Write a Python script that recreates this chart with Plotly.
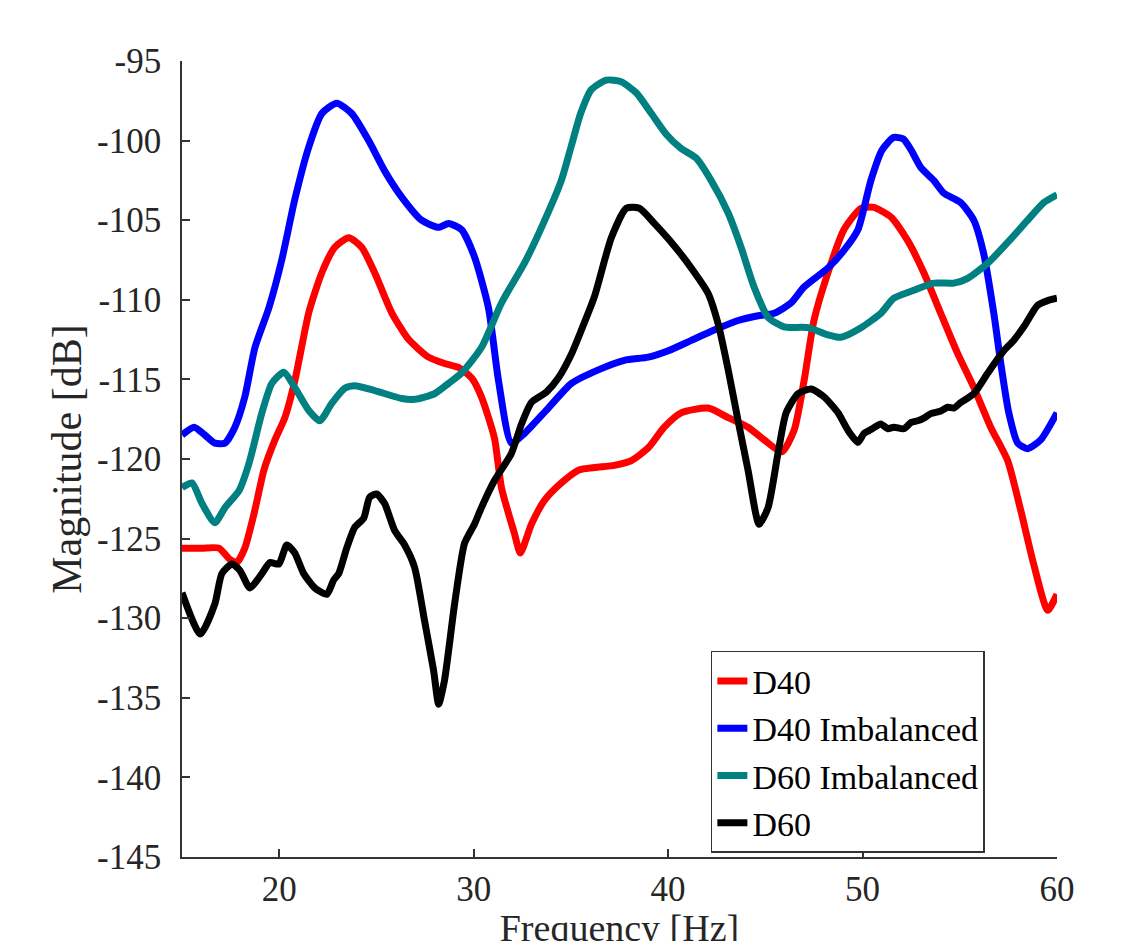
import plotly.graph_objects as go

# ---- data (frequency in Hz, magnitude in dB) ----
d40_f = [15.0, 16.03, 16.9, 17.46, 17.82, 18.23, 18.75, 19.21, 19.78, 20.29, 20.8, 21.52, 22.19, 22.86,
         23.58, 24.24, 24.91, 25.78, 26.66, 27.68, 28.5, 29.22, 29.89, 30.4, 31.07, 31.43, 32.1, 32.4,
         32.97, 33.64, 34.51, 35.39, 37.23, 38.11, 38.98, 39.8, 40.67, 42.06, 43.09, 44.11, 44.94,
         45.85, 46.48, 46.99, 47.5, 48.22, 49.04, 49.92, 50.58, 51.46, 52.33, 53.15, 54.02, 54.9,
         55.72, 56.59, 57.46, 58.13, 58.8, 59.52, 60.0]
d40_v = [-125.6, -125.6, -125.6, -126.3, -126.5, -125.6, -123.2, -120.7, -118.8, -117.4, -115.1, -110.8,
         -108.3, -106.7, -106.1, -106.7, -108.3, -110.8, -112.5, -113.6, -114.0, -114.25, -114.9, -116.1,
         -118.7, -121.8, -124.7, -125.9, -124.1, -122.6, -121.5, -120.7, -120.4, -120.1, -119.3, -118.0,
         -117.1, -116.8, -117.4, -118.0, -118.8, -119.55, -118.2, -115.1, -111.3, -108.3, -105.6,
         -104.25, -104.2, -104.8, -106.3, -108.3, -110.85, -113.4, -115.5, -118.0, -120.1, -123.2,
         -126.6, -129.5, -128.5]

d40i_f = [15.0, 15.62, 16.18, 16.69, 17.21, 17.72, 18.23, 18.75, 19.47, 20.13, 20.8, 21.52, 22.19, 22.96,
          23.73, 24.6, 25.42, 26.3, 27.32, 28.2, 28.71, 29.38, 30.04, 30.76, 31.28, 31.94, 32.61,
          33.84, 35.03, 36.41, 37.75, 38.98, 40.01, 41.19, 42.37, 43.6, 44.63, 45.45, 46.32, 46.99,
          48.22, 49.04, 49.76, 50.43, 51.0, 51.6, 52.1, 52.5, 53.0, 53.66, 54.18, 55.05, 55.72, 56.23,
          56.75, 57.11, 57.52, 57.98, 58.49, 59.16, 60.0]
d40i_v = [-118.5, -118.0, -118.5, -119.0, -119.0, -118.0, -116.1, -113.0, -110.5, -107.5, -103.7, -100.4,
          -98.3, -97.65, -98.3, -100.0, -101.9, -103.55, -105.0, -105.45, -105.2, -105.6, -107.3, -110.5,
          -115.1, -119.0, -118.4, -116.8, -115.25, -114.4, -113.8, -113.6, -113.2, -112.55, -111.9,
          -111.3, -111.0, -110.85, -110.2, -109.2, -108.0, -106.9, -105.6, -102.5, -100.6, -99.8,
          -99.9, -100.6, -101.7, -102.5, -103.3, -103.9, -105.0, -107.1, -110.85, -114.0, -117.1,
          -119.0, -119.35, -118.8, -117.1]

d60i_f = [15.0, 15.51, 16.03, 16.69, 17.21, 17.93, 18.44, 19.11, 19.62, 20.24, 20.8, 21.52, 22.09, 22.7,
          23.37, 23.88, 24.91, 26.3, 26.96, 27.99, 28.71, 29.38, 30.4, 31.43, 32.61, 33.49, 34.51,
          35.03, 35.5, 36.05, 36.82, 37.59, 38.36, 39.14, 39.9, 40.67, 41.44, 42.21, 43.09, 43.75,
          44.42, 45.14, 45.96, 47.2, 48.22, 48.89, 49.92, 50.94, 51.61, 52.64, 53.66, 54.69, 55.41,
          56.44, 57.46, 58.49, 59.31, 60.0]
d60i_v = [-121.8, -121.5, -122.8, -124.0, -123.05, -122.0, -120.3, -117.1, -115.25, -114.55, -115.5,
          -116.95, -117.6, -116.5, -115.55, -115.4, -115.7, -116.2, -116.25, -115.9, -115.25, -114.6,
          -113.0, -110.2, -107.7, -105.45, -102.5, -100.3, -98.3, -96.8, -96.2, -96.3, -97.0, -98.3,
          -99.6, -100.5, -101.1, -102.5, -104.55, -106.7, -109.2, -111.1, -111.7, -111.75, -112.2,
          -112.35, -111.75, -110.85, -109.9, -109.4, -108.95, -108.95, -108.65, -107.7, -106.4, -105.0,
          -103.9, -103.4]

d60_f = [15.0, 15.94, 16.69, 17.05, 17.57, 17.98, 18.49, 19.11, 19.52, 19.98, 20.39, 20.8, 21.26, 21.83,
         22.45, 22.8, 23.06, 23.47, 23.88, 24.35, 24.65, 25.01, 25.42, 25.94, 26.45, 26.96, 27.48,
         27.94, 28.2, 28.5, 29.02, 29.53, 30.04, 30.4, 31.07, 31.94, 32.46, 32.97, 33.74, 34.36,
         35.03, 35.54, 36.21, 37.08, 37.85, 38.52, 39.29, 40.31, 41.19, 42.06, 42.57, 43.09, 43.6,
         44.11, 44.68, 45.14, 45.65, 46.07, 46.68, 47.35, 48.02, 48.74, 49.25, 49.76, 50.07, 50.5,
         50.94, 51.3, 51.61, 52.12, 52.5, 52.84, 53.2, 53.51, 54.0, 54.38, 54.7, 55.05, 55.72, 56.44,
         57.26, 57.77, 58.29, 59.0, 59.52, 60.0]
d60_v = [-128.4, -131.0, -129.1, -127.2, -126.6, -127.0, -128.1, -127.2, -126.5, -126.6, -125.4, -125.9,
         -127.2, -128.1, -128.5, -127.6, -127.2, -125.6, -124.3, -123.7, -122.4, -122.2, -122.8, -124.5,
         -125.4, -126.8, -130.2, -133.3, -135.4, -133.9, -129.1, -125.3, -124.1, -123.05, -121.35,
         -119.65, -117.8, -116.45, -115.8, -114.9, -113.4, -111.9, -109.8, -106.1, -104.25, -104.25,
         -105.2, -106.6, -108.0, -109.6, -111.5, -114.4, -117.6, -120.7, -124.1, -123.05, -119.65,
         -117.1, -115.9, -115.6, -116.1, -117.1, -118.2, -118.95, -118.4, -118.1, -117.8, -118.1,
         -118.0, -118.1, -117.7, -117.6, -117.4, -117.15, -117.0, -116.75, -116.8, -116.45, -115.9,
         -114.6, -113.2, -112.55, -111.7, -110.35, -110.05, -109.9]

series_names = ["D40", "D40 Imbalanced", "D60 Imbalanced", "D60"]
series_colors = ["#ff0000", "#0000ff", "#008080", "#000000"]
series_data = [(d40_f, d40_v), (d40i_f, d40i_v), (d60i_f, d60i_v), (d60_f, d60_v)]

x_ticks = [20, 30, 40, 50, 60]
y_ticks = [-145, -140, -135, -130, -125, -120, -115, -110, -105, -100, -95]

FONT = "Liberation Serif, Times New Roman, serif"
AX = "#333333"
TXT = "#262626"

fig = go.Figure()
for name, color, (fx, fy) in zip(series_names, series_colors, series_data):
    fig.add_trace(go.Scatter(x=fx, y=fy, mode="lines", name=name,
                             line=dict(color=color, width=7, shape="spline", smoothing=0.6)))

fig.update_layout(
    width=1121, height=941,
    margin=dict(l=174, r=72, t=53, b=92),
    paper_bgcolor="white", plot_bgcolor="white",
    font=dict(family=FONT, color=TXT, size=35),
    showlegend=True,
    legend=dict(x=0.761, y=0.132, xanchor="center", yanchor="middle",
                bgcolor="white", bordercolor=AX, borderwidth=1.5,
                font=dict(family=FONT, size=34, color="#000000"),
                tracegroupgap=0),
)
fig.update_xaxes(range=[15, 60], tickvals=x_ticks, ticktext=[str(v) for v in x_ticks],
                 showgrid=False, zeroline=False, showline=True, linecolor=AX, linewidth=1.5,
                 ticks="inside", ticklen=8, tickwidth=1.5, tickcolor=AX,
                 tickfont=dict(family=FONT, size=35, color=TXT),
                 title=dict(text="Frequency [Hz]", font=dict(family=FONT, size=38, color=TXT), standoff=0))
fig.update_yaxes(range=[-145, -95], tickvals=y_ticks, ticktext=[str(v) for v in y_ticks],
                 showgrid=False, zeroline=False, showline=True, linecolor=AX, linewidth=1.5,
                 ticks="inside", ticklen=8, tickwidth=1.5, tickcolor=AX, ticklabelstandoff=12,
                 tickfont=dict(family=FONT, size=35, color=TXT),
                 title=dict(text="Magnitude [dB]", font=dict(family=FONT, size=42, color=TXT), standoff=2))

fig.write_html("out.html")
